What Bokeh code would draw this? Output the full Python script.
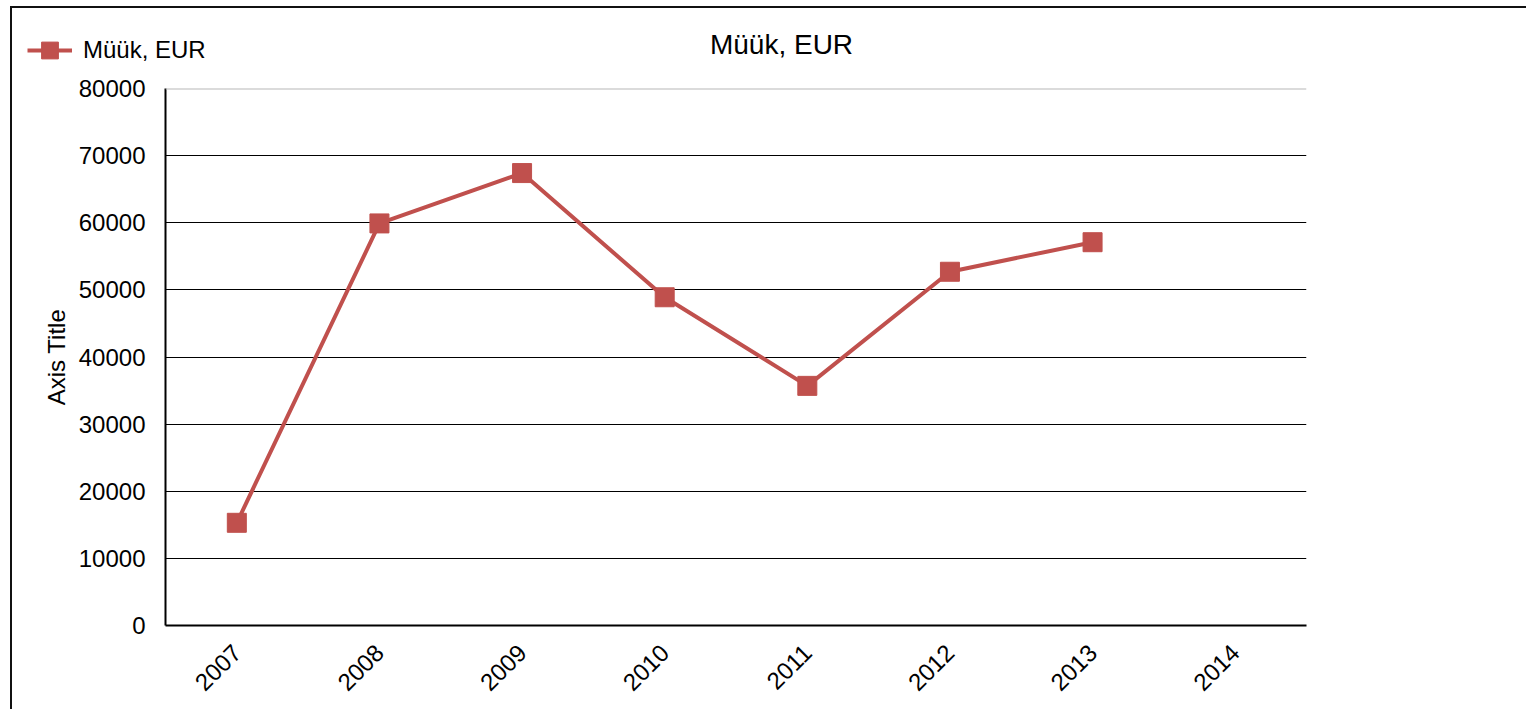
import math
from bokeh.plotting import figure
from bokeh.models import (FixedTicker, NumeralTickFormatter, Legend, LegendItem,
                          Span, ColumnDataSource, Range1d, FactorRange, Label)
from bokeh.embed import file_html
from bokeh.resources import INLINE

years = ["2007", "2008", "2009", "2010", "2011", "2012", "2013", "2014"]
values = [15300, 59900, 67400, 48900, 35700, 52700, 57100, float("nan")]
series_name = "Müük, EUR"
chart_title = "Müük, EUR"
y_axis_title = "Axis Title"
y_ticks = [0, 10000, 20000, 30000, 40000, 50000, 60000, 70000, 80000]

FONT = "Liberation Sans"
RED = "#C0504D"

src = ColumnDataSource(dict(x=years, y=values))

# ---------- header strip: legend + title ----------
top = figure(x_range=FactorRange(*years), y_range=Range1d(-2, -1), width=1516, height=63,
             output_backend="svg", toolbar_location=None,
             x_axis_type=None, y_axis_type=None,
             min_border_left=0, min_border_right=0, min_border_top=0, min_border_bottom=0)
top.outline_line_color = None
top.grid.visible = False
top.styles = {"border-top": "2px solid #111", "border-left": "2px solid #111",
              "margin-left": "10px", "margin-top": "6px"}
# the same series (outside this strip's visible range) feeds the legend key
t_line = top.line("x", "y", source=src, line_color=RED, line_width=4)
t_mark = top.scatter("x", "y", source=src, marker="square", size=19,
                     fill_color=RED, line_color=RED)
legend = Legend(items=[LegendItem(label=series_name, renderers=[t_line, t_mark])],
                location=(15, 0), glyph_width=45, glyph_height=42,
                label_height=42, label_standoff=11, padding=0, margin=0,
                border_line_color=None, background_fill_alpha=0,
                label_text_font=FONT, label_text_font_size="24px",
                label_text_color="black")
top.add_layout(legend)
top.add_layout(Label(x=769, y=27, x_units="screen", y_units="screen", text=chart_title,
                     text_font=FONT, text_font_size="28px", text_align="center",
                     text_baseline="middle", text_color="black"))

# ---------- main chart ----------
p = figure(x_range=years, y_range=Range1d(0, 80000), width=1516, height=640,
           output_backend="svg", toolbar_location=None,
           min_border_left=153, min_border_right=222, min_border_top=19,
           min_border_bottom=84)
p.x_range.range_padding = 0
p.outline_line_color = None
p.styles = {"border-left": "2px solid #111", "margin-left": "10px"}

r_line = p.line("x", "y", source=src, line_color=RED, line_width=4)
r_mark = p.scatter("x", "y", source=src, marker="square", size=19,
                   fill_color=RED, line_color=RED)

p.yaxis.ticker = FixedTicker(ticks=y_ticks)
p.yaxis.formatter = NumeralTickFormatter(format="0")
p.yaxis.axis_label = y_axis_title
for ax in (p.xaxis[0], p.yaxis[0]):
    ax.major_label_text_font = FONT
    ax.major_label_text_font_size = "24px"
    ax.major_label_text_color = "black"
    ax.axis_line_color = "black"
    ax.axis_line_width = 2
    ax.major_tick_out = 0
    ax.major_tick_in = 0
    ax.minor_tick_out = 0
    ax.minor_tick_in = 0
p.yaxis.major_label_standoff = 20
p.yaxis.axis_label_text_font = FONT
p.yaxis.axis_label_text_font_size = "24px"
p.yaxis.axis_label_text_font_style = "normal"
p.yaxis.axis_label_text_color = "black"
p.yaxis.axis_label_standoff = 6
p.xaxis.major_label_orientation = math.pi / 4
p.xaxis.major_label_standoff = 23

p.xgrid.grid_line_color = None
p.ygrid.ticker = FixedTicker(ticks=y_ticks[1:-1])
p.ygrid.grid_line_color = "black"
p.ygrid.grid_line_width = 1
p.add_layout(Span(location=80000, dimension="width", line_color="#b8b8b8", line_width=2))

open("out.html", "w").write(file_html([top, p], INLINE))
